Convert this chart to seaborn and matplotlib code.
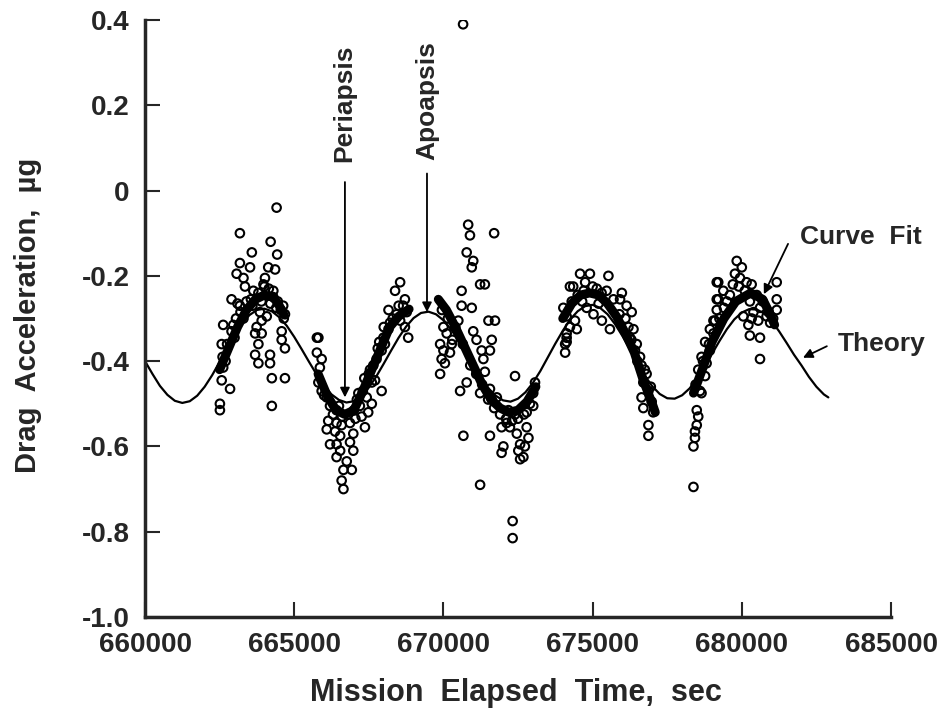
import numpy as np
import pandas as pd
import matplotlib
matplotlib.use("Agg")
import matplotlib.pyplot as plt
import seaborn as sns

# Tiempo de mision (s) y aceleracion de arrastre (micro-g)
obs_time = [
    # pasada 1
    664410, 663180, 664210, 663580, 664430, 663180, 663520, 664130, 664360, 663070,
    663300, 663350, 664020, 663970, 664300, 663630, 662900, 663180, 664630, 664690,
    663850, 664080, 663910, 662620, 662960, 663740, 663690, 663910, 664580, 664580,
    664690, 663800, 662570, 664190, 663690, 663800, 664190, 662620, 664250, 664690,
    662570, 662850, 664250, 662510, 662510,
    662600, 662750, 662900, 663050, 663200, 663400, 663550, 663800, 664000, 664150,
    664300, 664450, 664550, 662700, 663000, 663300, 663100, 663600, 663900, 664200,
    664400, 664650,
    # pasada 2
    665760, 665760, 665810, 665920, 665860, 665810, 665920, 666090, 666200, 666420,
    666140, 666420, 666590, 666090, 666370, 666870, 666980, 666540, 666200, 666420,
    666870, 666540, 666980, 666420, 666760, 666650, 666930, 666590, 666650, 667370,
    667260, 667480, 667600, 667200, 667150, 667430, 667600, 667540, 667710, 667760,
    667930, 667990, 668040, 668160, 668210, 668160, 668430, 668550, 668380, 668550,
    668710, 668770, 668820, 668710, 667930,
    666000, 666300, 666600, 666800, 667000, 667100, 667300, 667500, 667650, 667800,
    668000, 668300, 668500, 668650, 667050, 666500, 667350, 667850,
    # pasada 3
    670830, 670890, 671700, 670780, 671000, 670950, 671230, 671390, 670610, 670610,
    670950, 670500, 671510, 671730, 671000, 671620, 671110, 671280, 671560, 670110,
    669890, 670280, 670000, 670220, 669940, 670050, 669890, 671340, 671390, 672400,
    670560, 670780, 671230, 671560, 671620, 671790, 670670, 671560, 671950, 672120,
    672010, 671950, 672230, 672460, 672790, 672850, 672570, 672730, 672510, 672680,
    672570, 672180, 672400, 672790, 673010, 673010, 673070, 671230, 672320, 672320,
    670660,
    669950, 670150, 670400, 670650, 670900, 671100, 671300, 671500, 671700, 671900,
    672100, 672300, 672500, 672700, 672900, 670000, 670300,
    # pasada 4
    674240, 674020, 674130, 674130, 674080, 674580, 674910, 675530, 674350, 674750,
    675140, 675470, 675980, 675920, 676140, 676310, 674130, 674410, 674240, 674130,
    674080, 674470, 674800, 675030, 675310, 675580, 676200, 676370, 676250, 676480,
    676420, 676590, 676640, 676810, 676700, 676870, 676640, 676980, 676700, 677030,
    676870, 676870,
    674300, 674500, 674700, 675000, 675300, 675700, 675900, 676100, 676300, 676500,
    676750, 676950, 674650, 675200,
    # pasada 5
    678490, 678540, 678490, 678430, 678430, 678380, 678600, 678770, 678820, 678930,
    679050, 679100, 679160, 679160, 678650, 679830, 680000, 679770, 679940, 679210,
    680160, 680330, 681170, 681170, 679380, 679600, 679210, 680270, 680390, 680610,
    680050, 680330, 680220, 680550, 680830, 680950, 681170, 680270, 680610, 680610,
    679160, 679050, 678930, 678770, 678650, 678540, 678380,
    678450, 678700, 678900, 679250, 679500, 679700, 679900, 680100, 680500, 680700,
    680900, 681050, 679400,
]
obs_accel = [
    -0.04, -0.10, -0.12, -0.145, -0.15, -0.17, -0.18, -0.18, -0.185, -0.195,
    -0.205, -0.225, -0.205, -0.22, -0.235, -0.235, -0.255, -0.27, -0.27, -0.29,
    -0.285, -0.295, -0.305, -0.315, -0.315, -0.32, -0.335, -0.335, -0.33, -0.35,
    -0.37, -0.36, -0.36, -0.385, -0.385, -0.405, -0.405, -0.415, -0.44, -0.44,
    -0.445, -0.465, -0.505, -0.50, -0.515,
    -0.39, -0.36, -0.33, -0.30, -0.285, -0.26, -0.255, -0.24, -0.225, -0.23,
    -0.25, -0.26, -0.28, -0.40, -0.345, -0.30, -0.265, -0.27, -0.26, -0.265,
    -0.275, -0.30,
    -0.345, -0.38, -0.345, -0.395, -0.415, -0.45, -0.47, -0.485, -0.505, -0.515,
    -0.54, -0.545, -0.55, -0.56, -0.565, -0.545, -0.57, -0.575, -0.595, -0.595,
    -0.59, -0.61, -0.61, -0.625, -0.635, -0.655, -0.655, -0.68, -0.70, -0.555,
    -0.53, -0.52, -0.50, -0.505, -0.475, -0.485, -0.45, -0.42, -0.445, -0.395,
    -0.375, -0.345, -0.36, -0.325, -0.31, -0.28, -0.29, -0.305, -0.235, -0.215,
    -0.255, -0.285, -0.345, -0.32, -0.47,
    -0.48, -0.525, -0.53, -0.525, -0.515, -0.49, -0.47, -0.43, -0.41, -0.37,
    -0.32, -0.30, -0.27, -0.27, -0.535, -0.505, -0.44, -0.355,
    -0.08, -0.105, -0.10, -0.145, -0.165, -0.18, -0.22, -0.22, -0.235, -0.27,
    -0.275, -0.305, -0.305, -0.305, -0.33, -0.35, -0.35, -0.375, -0.375, -0.335,
    -0.36, -0.36, -0.375, -0.38, -0.395, -0.405, -0.43, -0.395, -0.425, -0.435,
    -0.47, -0.45, -0.475, -0.465, -0.49, -0.485, -0.575, -0.575, -0.555, -0.545,
    -0.60, -0.615, -0.555, -0.57, -0.555, -0.58, -0.595, -0.60, -0.61, -0.625,
    -0.63, -0.515, -0.525, -0.52, -0.505, -0.475, -0.45, -0.69, -0.775, -0.815,
    0.39,
    -0.28, -0.30, -0.32, -0.36, -0.41, -0.43, -0.455, -0.49, -0.51, -0.525,
    -0.535, -0.54, -0.535, -0.525, -0.50, -0.32, -0.35,
    -0.225, -0.275, -0.335, -0.355, -0.38, -0.195, -0.195, -0.20, -0.225, -0.215,
    -0.23, -0.235, -0.24, -0.255, -0.27, -0.285, -0.295, -0.305, -0.32, -0.345,
    -0.36, -0.325, -0.275, -0.29, -0.305, -0.325, -0.32, -0.325, -0.345, -0.36,
    -0.375, -0.39, -0.41, -0.43, -0.45, -0.47, -0.485, -0.495, -0.51, -0.52,
    -0.55, -0.575,
    -0.26, -0.245, -0.235, -0.225, -0.24, -0.255, -0.29, -0.30, -0.35, -0.40,
    -0.42, -0.46, -0.26, -0.265,
    -0.515, -0.53, -0.55, -0.565, -0.58, -0.60, -0.47, -0.435, -0.405, -0.375,
    -0.335, -0.305, -0.255, -0.215, -0.475, -0.165, -0.18, -0.195, -0.205, -0.215,
    -0.215, -0.22, -0.215, -0.255, -0.235, -0.245, -0.255, -0.26, -0.285, -0.275,
    -0.295, -0.30, -0.315, -0.305, -0.295, -0.31, -0.28, -0.34, -0.345, -0.395,
    -0.28, -0.305, -0.325, -0.355, -0.39, -0.42, -0.695,
    -0.455, -0.40, -0.36, -0.30, -0.26, -0.22, -0.225, -0.235, -0.245, -0.26,
    -0.285, -0.30, -0.275,
]

# curva teorica (leida cada 250 s)
theory_time = [
    660000, 660250, 660500, 660750, 661000, 661250, 661500, 661750, 662000, 662250,
    662500, 662750, 663000, 663250, 663500, 663750, 664000, 664250, 664500, 664750,
    665000, 665250, 665500, 665750, 666000, 666250, 666500, 666750, 667000, 667250,
    667500, 667750, 668000, 668250, 668500, 668750, 669000, 669250, 669500, 669750,
    670000, 670250, 670500, 670750, 671000, 671250, 671500, 671750, 672000, 672250,
    672500, 672750, 673000, 673250, 673500, 673750, 674000, 674250, 674500, 674750,
    675000, 675250, 675500, 675750, 676000, 676250, 676500, 676750, 677000, 677250,
    677500, 677750, 678000, 678250, 678500, 678750, 679000, 679250, 679500, 679750,
    680000, 680250, 680500, 680750, 681000, 681250, 681500, 681750, 682000, 682250,
    682500, 682750, 682900,
]
theory_accel = [
    -0.400, -0.430, -0.458, -0.479, -0.493, -0.498, -0.494, -0.481, -0.460, -0.433,
    -0.402, -0.369, -0.339, -0.312, -0.292, -0.280, -0.277, -0.283, -0.297, -0.317,
    -0.343, -0.372, -0.402, -0.431, -0.457, -0.478, -0.491, -0.497, -0.494, -0.482,
    -0.462, -0.436, -0.406, -0.375, -0.345, -0.319, -0.299, -0.287, -0.284, -0.290,
    -0.304, -0.325, -0.351, -0.381, -0.410, -0.439, -0.463, -0.481, -0.492, -0.495,
    -0.488, -0.473, -0.451, -0.423, -0.391, -0.359, -0.329, -0.302, -0.283, -0.271,
    -0.268, -0.275, -0.290, -0.313, -0.341, -0.372, -0.404, -0.434, -0.459, -0.477,
    -0.487, -0.488, -0.480, -0.464, -0.441, -0.413, -0.383, -0.353, -0.325, -0.302,
    -0.286, -0.278, -0.279, -0.288, -0.306, -0.330, -0.357, -0.385, -0.410, -0.437,
    -0.460, -0.478, -0.485,
]

# ajustes de curva (uno por pasada)
fit1_time = [662500, 662800, 663100, 663400, 663700, 664000, 664300, 664500, 664650]
fit1_accel = [-0.42, -0.37, -0.32, -0.28, -0.255, -0.245, -0.25, -0.27, -0.29]
fit2_time = [665800, 666100, 666400, 666700, 667000, 667300, 667600, 667900, 668200, 668500, 668850]
fit2_accel = [-0.43, -0.48, -0.515, -0.525, -0.515, -0.47, -0.42, -0.37, -0.32, -0.295, -0.278]
fit3_time = [669830, 670100, 670400, 670700, 671000, 671300, 671600, 671900, 672200, 672500, 672800, 673100]
fit3_accel = [-0.255, -0.28, -0.32, -0.365, -0.41, -0.455, -0.49, -0.51, -0.52, -0.515, -0.495, -0.46]
fit4_time = [674000, 674300, 674600, 674900, 675200, 675500, 675800, 676100, 676400, 676700, 677000, 677100]
fit4_accel = [-0.30, -0.265, -0.245, -0.24, -0.245, -0.265, -0.295, -0.335, -0.38, -0.445, -0.50, -0.52]
fit5_time = [678380, 678700, 679000, 679400, 679800, 680300, 680700, 680950, 681100]
fit5_accel = [-0.475, -0.415, -0.355, -0.30, -0.26, -0.24, -0.255, -0.29, -0.315]

x_ticks = [660000, 665000, 670000, 675000, 680000, 685000]
y_ticks = [-1.0, -0.8, -0.6, -0.4, -0.2, 0, 0.2, 0.4]
y_tick_labels = ['-1.0', '-0.8', '-0.6', '-0.4', '-0.2', '0', '0.2', '0.4']

sns.set_style("ticks")
plt.rcParams['font.family'] = ['Liberation Sans', 'DejaVu Sans']
plt.rcParams['font.weight'] = 'bold'

fig = plt.figure(figsize=(9.45, 7.2), dpi=100)
ax = fig.add_axes([145 / 945, 1 - 617 / 720, 746 / 945, 597 / 720])

sns.lineplot(x=theory_time, y=theory_accel, color='black', linewidth=1.6, ax=ax)

fits = [(fit1_time, fit1_accel), (fit2_time, fit2_accel), (fit3_time, fit3_accel),
        (fit4_time, fit4_accel), (fit5_time, fit5_accel)]
for ft, fa in fits:
    sns.lineplot(x=ft, y=fa, color='black', linewidth=6.5, ax=ax,
                 solid_capstyle='round')

sns.scatterplot(x=obs_time, y=obs_accel, marker='o', s=38, facecolor='none',
                edgecolor='black', linewidth=1.5, ax=ax, zorder=3)

ax.set_xlim(660000, 685000)
ax.set_ylim(-1.0, 0.4)
ax.set_xticks(x_ticks)
ax.set_xticklabels([str(t) for t in x_ticks])
ax.set_yticks(y_ticks)
ax.set_yticklabels(y_tick_labels)
ax.tick_params(direction='in', length=11, width=1.5, pad=11, labelsize=20)
for lab in ax.get_xticklabels() + ax.get_yticklabels():
    lab.set_fontweight('bold')

sns.despine(ax=ax)
for side in ['left', 'bottom']:
    ax.spines[side].set_linewidth(2.5)

ax.set_xlabel('Mission  Elapsed  Time,  sec', fontsize=22, fontweight='bold')
ax.set_ylabel('Drag  Acceleration,  \u00b5g', fontsize=21, fontweight='bold')
ax.xaxis.set_label_coords(0.497, -0.102)
ax.yaxis.set_label_coords(-0.138, 0.505)

# anotaciones
arrow_kw = dict(arrowstyle='-|>', color='black', lw=1.3, mutation_scale=14,
                shrinkA=0, shrinkB=0)
ax.annotate('', xy=(666700, -0.485), xytext=(666700, 0.02), arrowprops=arrow_kw)
ax.annotate('', xy=(669450, -0.285), xytext=(669450, 0.04), arrowprops=arrow_kw)
ax.text(666670, 0.205, 'Periapsis', rotation=90, ha='center', va='center',
        fontsize=19, fontweight='bold')
ax.text(669450, 0.21, 'Apoapsis', rotation=90, ha='center', va='center',
        fontsize=19, fontweight='bold')

ax.annotate('', xy=(680740, -0.243), xytext=(681550, -0.125), arrowprops=arrow_kw)
ax.text(683990, -0.109, 'Curve  Fit', ha='center', va='center',
        fontsize=19, fontweight='bold')
ax.annotate('', xy=(682050, -0.392), xytext=(682850, -0.365), arrowprops=arrow_kw)
ax.text(684700, -0.360, 'Theory', ha='center', va='center',
        fontsize=19, fontweight='bold')

fig.savefig('out.png', dpi=100)
